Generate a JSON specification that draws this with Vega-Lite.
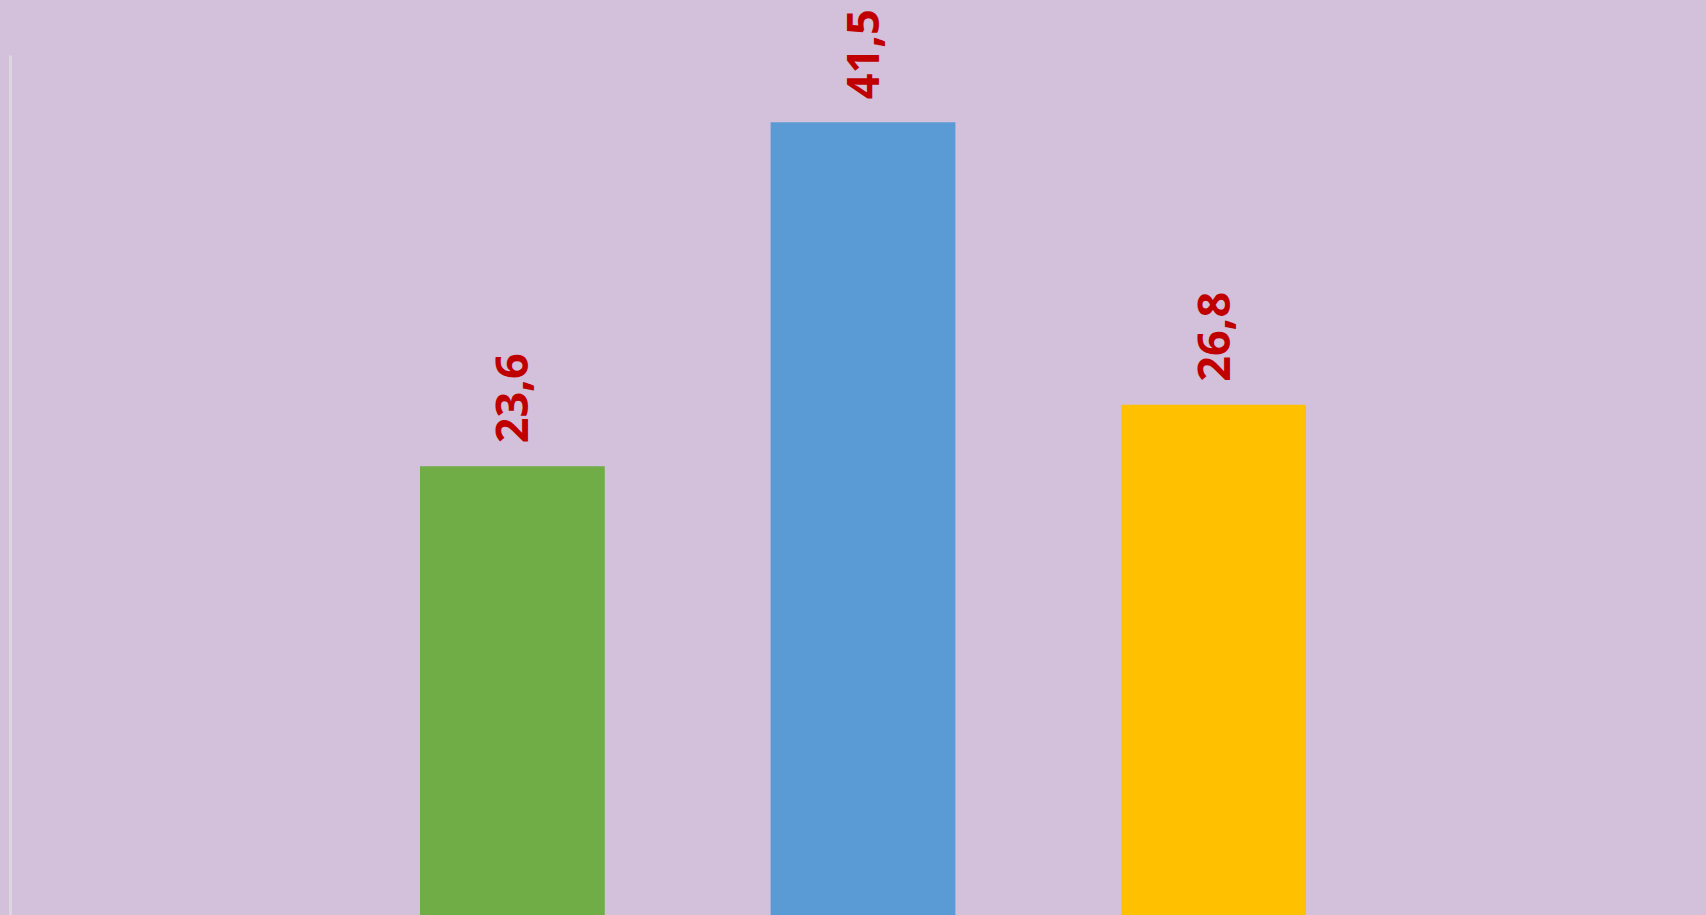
{
  "$schema": "https://vega.github.io/schema/vega-lite/v6.json",
  "autosize": {"type": "none"},
  "padding": {"left": 10, "top": 55, "right": 0, "bottom": 0},
  "width": 1696,
  "height": 860,
  "background": "#D3C0DB",
  "config": {"view": {"stroke": null}},
  "data": {"values": [
    {"category": "A", "value": 23.6, "label": "23,6", "color": "#70AD47"},
    {"category": "B", "value": 41.5, "label": "41,5", "color": "#5B9BD5"},
    {"category": "C", "value": 26.8, "label": "26,8", "color": "#FFC000"}
  ]},
  "encoding": {
    "x": {"field": "category", "type": "nominal", "sort": null,
      "scale": {"paddingInner": 0.473, "paddingOuter": 0, "range": [410, 1296]},
      "axis": null},
    "y": {"field": "value", "type": "quantitative",
      "scale": {"domain": [0.26, 45], "zero": false, "nice": false},
      "axis": {"domain": true, "domainColor": "#D9D9D9", "domainWidth": 3, "ticks": false, "labels": false, "grid": false, "title": null}}
  },
  "layer": [
    {"mark": {"type": "bar", "clip": true},
     "encoding": {"color": {"field": "color", "type": "nominal", "scale": null}}},
    {"mark": {"type": "text", "angle": -90, "align": "left", "baseline": "middle", "dx": 23, "dy": 2, "font": "Open Sans", "fontWeight": "bold", "fontSize": 45, "color": "#C00000"},
     "encoding": {"text": {"field": "label"}}}
  ]
}
